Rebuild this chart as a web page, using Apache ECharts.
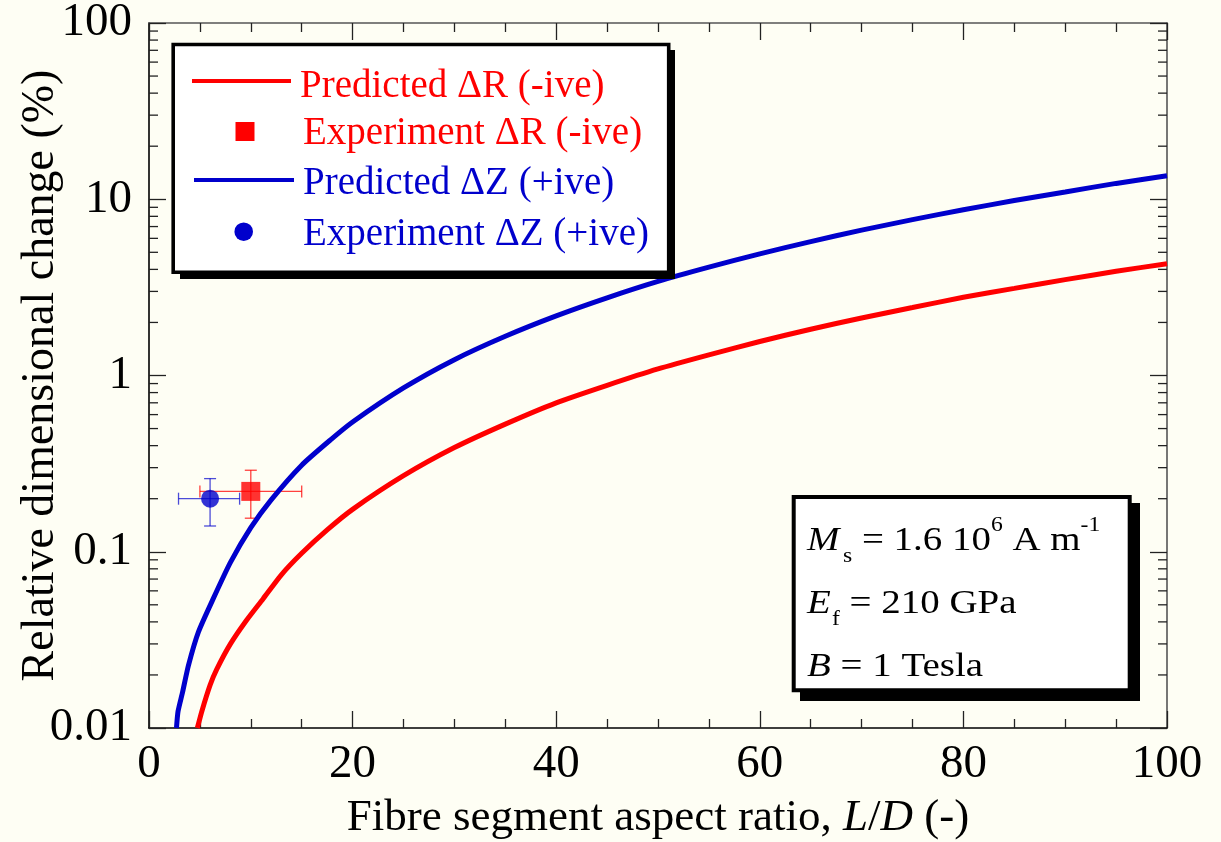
<!DOCTYPE html>
<html>
<head>
<meta charset="utf-8">
<script src="https://cdn.jsdelivr.net/npm/echarts@6/dist/echarts.min.js"></script>
<style>
html,body{margin:0;padding:0;background:#fefef4}
#chart{width:1221px;height:842px}
</style>
</head>
<body>
<div id="chart"></div>
<script>
var ratioR = [4.75, 5.2, 6, 6.65, 8, 9.6, 11.2, 13, 15, 17.5, 20, 25, 30, 35, 40, 45, 50, 55, 60, 65, 70, 75, 80, 85, 90, 95, 100];
var predictedR = [0.01, 0.0125, 0.0175, 0.0215, 0.03, 0.041, 0.054, 0.074, 0.098, 0.133, 0.174, 0.27, 0.39, 0.53, 0.70, 0.88, 1.09, 1.31, 1.56, 1.83, 2.12, 2.43, 2.78, 3.12, 3.5, 3.9, 4.31];
var ratioZ = [2.7, 2.85, 3.3, 3.87, 4.85, 6.3, 8, 10, 12, 15, 17.8, 20, 25, 30, 35, 40, 45, 50, 55, 60, 65, 70, 75, 80, 85, 90, 95, 100];
var predictedZ = [0.01, 0.0124, 0.016, 0.0226, 0.035, 0.054, 0.087, 0.137, 0.197, 0.31, 0.43, 0.545, 0.85, 1.23, 1.67, 2.18, 2.76, 3.42, 4.12, 4.9, 5.75, 6.68, 7.66, 8.72, 9.83, 11.0, 12.3, 13.6];
// experiment: [x, y, xlow, xhigh, ylow, yhigh]
var expR = [[10, 0.22, 5, 15, 0.155, 0.29]];
var expZ = [[6, 0.20, 2.9, 8.9, 0.14, 0.26]];
var yTickLabels = ['0.01', '0.1', '1', '10', '100'];
var yMinorTicks = [0.02, 0.03, 0.04, 0.05, 0.06, 0.07, 0.08, 0.09,
                   0.2, 0.3, 0.4, 0.5, 0.6, 0.7, 0.8, 0.9,
                   2, 3, 4, 5, 6, 7, 8, 9,
                   20, 30, 40, 50, 60, 70, 80, 90];

var serif = "'Liberation Serif','Times New Roman',serif";
var RED = '#ff0000', BLUE = '#0000cc';

function zip(xs, ys) {
  var out = [];
  for (var i = 0; i < xs.length; i++) out.push([xs[i], ys[i]]);
  return out;
}
function yLabel(v) {
  var k = Math.round(Math.log(v) / Math.LN10) + 2;
  return yTickLabels[k] || '';
}

function errorBars(color) {
  return function (params, api) {
    var c = api.coord([api.value(0), api.value(1)]);
    var l = api.coord([api.value(2), api.value(1)]);
    var r = api.coord([api.value(3), api.value(1)]);
    var lo = api.coord([api.value(0), api.value(4)]);
    var hi = api.coord([api.value(0), api.value(5)]);
    var cap = 6;
    var st = {stroke: color, lineWidth: 1.3};
    return {type: 'group', children: [
      {type: 'line', shape: {x1: l[0], y1: c[1], x2: r[0], y2: c[1]}, style: st},
      {type: 'line', shape: {x1: l[0], y1: c[1] - cap, x2: l[0], y2: c[1] + cap}, style: st},
      {type: 'line', shape: {x1: r[0], y1: c[1] - cap, x2: r[0], y2: c[1] + cap}, style: st},
      {type: 'line', shape: {x1: c[0], y1: lo[1], x2: c[0], y2: hi[1]}, style: st},
      {type: 'line', shape: {x1: c[0] - cap, y1: lo[1], x2: c[0] + cap, y2: lo[1]}, style: st},
      {type: 'line', shape: {x1: c[0] - cap, y1: hi[1], x2: c[0] + cap, y2: hi[1]}, style: st}
    ]};
  };
}

function minorTicks(params, api) {
  var y = api.coord([0, api.value(1)])[1];
  var cs = params.coordSys;
  var st = {stroke: '#222', lineWidth: 1.3};
  return {type: 'group', children: [
    {type: 'line', shape: {x1: cs.x, y1: y, x2: cs.x + 9, y2: y}, style: st},
    {type: 'line', shape: {x1: cs.x + cs.width - 9, y1: y, x2: cs.x + cs.width, y2: y}, style: st}
  ]};
}

var chart = echarts.init(document.getElementById('chart'));

function xAxisBase(pos, showLabels, lineColor) {
  return {
    type: 'value', position: pos, min: 0, max: 100, interval: 20,
    axisLine: {show: true, onZero: false, lineStyle: {color: lineColor, width: 1.6}},
    axisTick: {show: true, inside: true, length: 17, lineStyle: {color: '#222', width: 1.3}},
    minorTick: {show: true, splitNumber: 4, length: 9, lineStyle: {color: '#222', width: 1.3}},
    splitLine: {show: false},
    axisLabel: {show: showLabels, color: '#000', fontFamily: serif, fontSize: 47, margin: 13}
  };
}
function yAxisBase(pos, showLabels, lineColor) {
  return {
    type: 'log', logBase: 10, position: pos, min: 0.01, max: 100,
    axisLine: {show: true, onZero: false, lineStyle: {color: lineColor, width: 1.6}},
    axisTick: {show: true, inside: true, length: 17, lineStyle: {color: '#222', width: 1.3}},
    minorTick: {show: false},
    splitLine: {show: false},
    axisLabel: {show: showLabels, color: '#000', fontFamily: serif, fontSize: 47, margin: 17, formatter: yLabel}
  };
}

var xMain = xAxisBase('bottom', true, '#000');
xMain.name = 'Fibre segment aspect ratio, {i|L}/{i|D} (-)';
xMain.nameLocation = 'middle';
xMain.nameGap = 68;
xMain.nameMoveOverlap = false;
xMain.nameTextStyle = {color: '#000', fontFamily: serif, fontSize: 45,
  rich: {i: {fontStyle: 'italic', fontFamily: serif, fontSize: 45, color: '#000'}}};

var yMain = yAxisBase('left', true, '#000');
yMain.name = 'Relative dimensional change (%)';
yMain.nameLocation = 'middle';
yMain.nameGap = 85;
yMain.nameMoveOverlap = false;
yMain.nameTextStyle = {color: '#000', fontFamily: serif, fontSize: 46};

var option = {
  backgroundColor: '#fefef4',
  animation: false,
  grid: {left: 149, right: 54, top: 23, bottom: 114, outerBoundsMode: 'none', containLabel: false},
  xAxis: [xMain, xAxisBase('top', false, '#555')],
  yAxis: [yMain, yAxisBase('right', false, '#555')],
  series: [
    {type: 'custom', renderItem: minorTicks, data: yMinorTicks.map(function (v) { return [0, v]; }),
     silent: true, clip: false, z: 1},
    {type: 'custom', renderItem: errorBars('rgba(255,0,0,0.75)'), data: expR, silent: true, z: 2},
    {type: 'custom', renderItem: errorBars('rgba(0,0,204,0.7)'), data: expZ, silent: true, z: 2},
    {name: 'Predicted ΔR (-ive)', type: 'line', data: zip(ratioR, predictedR), showSymbol: false,
     smooth: 0.2, lineStyle: {color: RED, width: 5}, z: 3},
    {name: 'Predicted ΔZ (+ive)', type: 'line', data: zip(ratioZ, predictedZ), showSymbol: false,
     smooth: 0.2, lineStyle: {color: BLUE, width: 5}, z: 3},
    {name: 'Experiment ΔR (-ive)', type: 'scatter', data: expR.map(function (d) { return [d[0], d[1]]; }),
     symbol: 'rect', symbolSize: 19, itemStyle: {color: RED}, z: 4},
    {name: 'Experiment ΔZ (+ive)', type: 'scatter', data: expZ.map(function (d) { return [d[0], d[1]]; }),
     symbol: 'circle', symbolSize: 18, itemStyle: {color: BLUE}, z: 4}
  ],
  graphic: {elements: [
    // legend box
    {type: 'rect', z: 10, shape: {x: 180, y: 50, width: 495, height: 229}, style: {fill: '#000'}},
    {type: 'rect', z: 11, shape: {x: 173.2, y: 44.5, width: 495.5, height: 227.8}, style: {fill: '#fff', stroke: '#000', lineWidth: 3.6}},
    {type: 'line', z: 12, shape: {x1: 192, y1: 81, x2: 291, y2: 81}, style: {stroke: RED, lineWidth: 4}},
    {type: 'rect', z: 12, shape: {x: 235.5, y: 122, width: 19, height: 19}, style: {fill: RED}},
    {type: 'line', z: 12, shape: {x1: 194, y1: 180, x2: 294, y2: 180}, style: {stroke: BLUE, lineWidth: 4}},
    {type: 'circle', z: 12, shape: {cx: 243.7, cy: 231.7, r: 9.3}, style: {fill: BLUE}},
    {type: 'text', z: 12, x: 300, y: 87, style: {text: 'Predicted ΔR (-ive)', fill: RED, font: '39px ' + serif, verticalAlign: 'middle'}},
    {type: 'text', z: 12, x: 303, y: 134, style: {text: 'Experiment ΔR (-ive)', fill: RED, font: '39px ' + serif, verticalAlign: 'middle'}},
    {type: 'text', z: 12, x: 303, y: 184, style: {text: 'Predicted ΔZ (+ive)', fill: BLUE, font: '39px ' + serif, verticalAlign: 'middle'}},
    {type: 'text', z: 12, x: 303, y: 235, style: {text: 'Experiment ΔZ (+ive)', fill: BLUE, font: '39px ' + serif, verticalAlign: 'middle'}},
    // parameter box
    {type: 'rect', z: 10, shape: {x: 800, y: 503, width: 340, height: 198}, style: {fill: '#000'}},
    {type: 'rect', z: 11, shape: {x: 793.7, y: 497, width: 336, height: 193.3}, style: {fill: '#fff', stroke: '#000', lineWidth: 4}},
    {type: 'text', z: 12, x: 807, y: 541, scaleX: 1.18,
     style: {text: '{i|M}{sub|s}{n| = 1.6 10}{sup|6}{n| A m}{sup|-1}', verticalAlign: 'middle', fill: '#000',
             font: '33px ' + serif,
             rich: {i: {fontStyle: 'italic', fontSize: 33, fontFamily: serif},
                    n: {fontSize: 33, fontFamily: serif},
                    sub: {fontSize: 20, fontFamily: serif, padding: [32, 0, 0, 3]},
                    sup: {fontSize: 20, fontFamily: serif, padding: [0, 0, 30, 0]}}}},
    {type: 'text', z: 12, x: 807, y: 604, scaleX: 1.18,
     style: {text: '{i|E}{sub|f}{n| = 210 GPa}', verticalAlign: 'middle', fill: '#000',
             font: '33px ' + serif,
             rich: {i: {fontStyle: 'italic', fontSize: 33, fontFamily: serif},
                    n: {fontSize: 33, fontFamily: serif},
                    sub: {fontSize: 20, fontFamily: serif, padding: [32, 0, 0, 1]}}}},
    {type: 'text', z: 12, x: 807, y: 667, scaleX: 1.18,
     style: {text: '{i|B}{n| = 1 Tesla}', verticalAlign: 'middle', fill: '#000',
             font: '33px ' + serif,
             rich: {i: {fontStyle: 'italic', fontSize: 33, fontFamily: serif},
                    n: {fontSize: 33, fontFamily: serif}}}}
  ]}
};
chart.setOption(option);
</script>
</body>
</html>
